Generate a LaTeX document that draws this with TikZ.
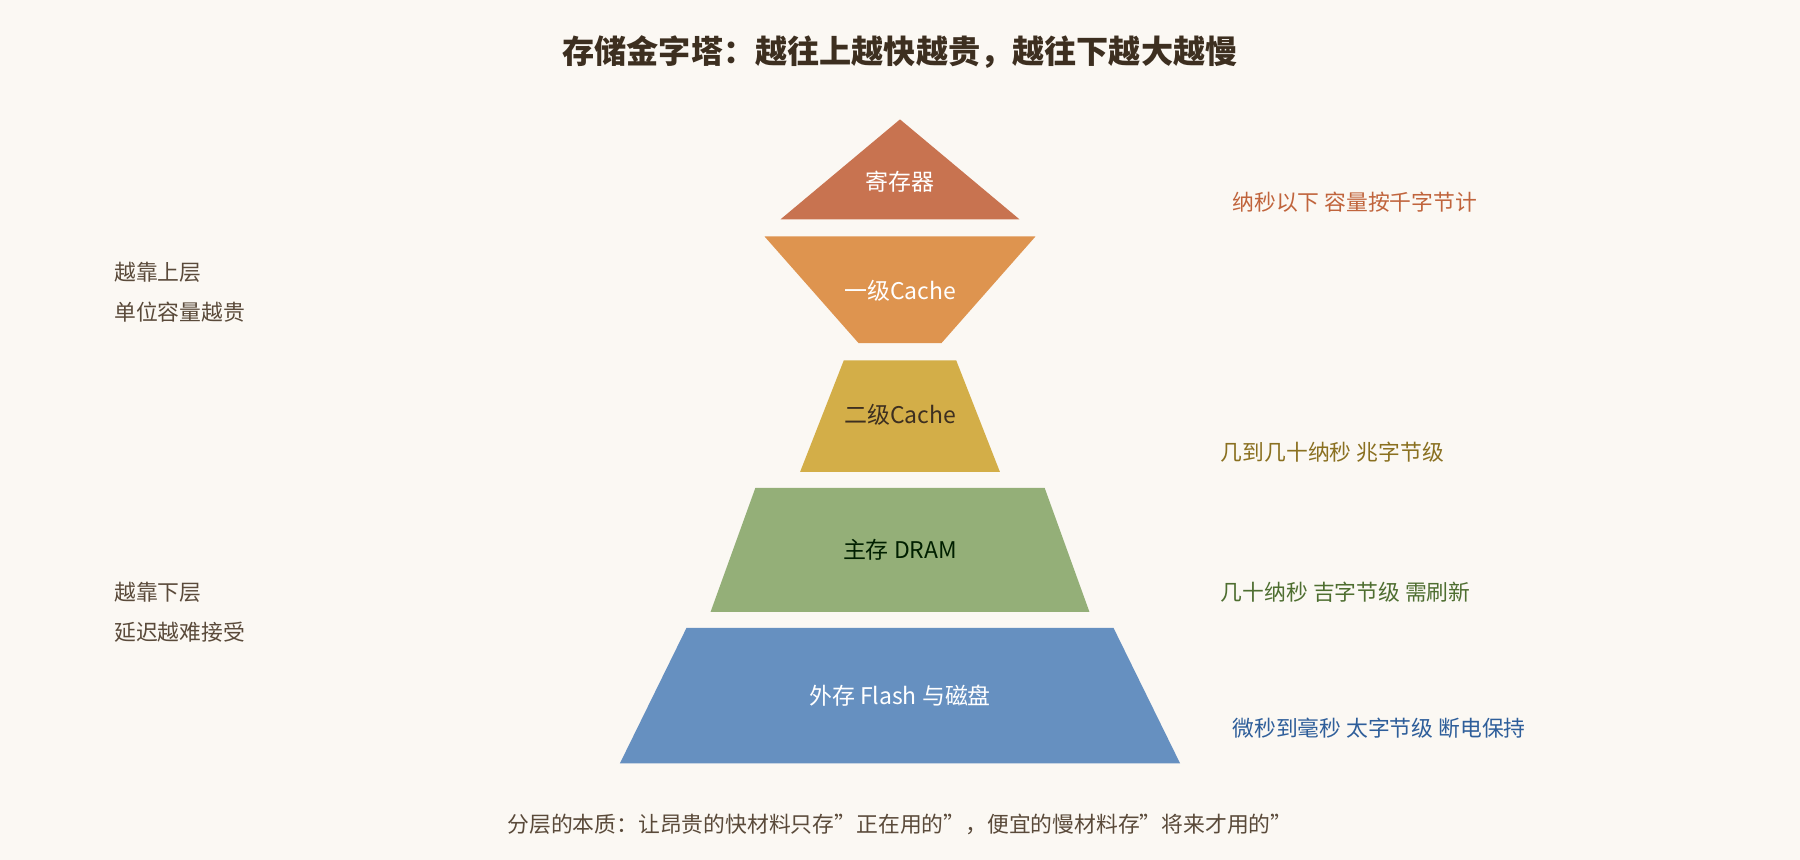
\documentclass[tikz,border=0pt]{standalone}
\usepackage{fontspec}
\setmainfont{Noto Sans CJK SC}
\begin{document}
\begin{tikzpicture}[x=1pt,y=-1pt,
  lbl/.style={font=\fontsize{20}{24}\selectfont,anchor=center},
  side/.style={font=\fontsize{19}{23}\selectfont,anchor=west},
  tier/.style={draw=none}]
\definecolor{bg}{HTML}{FBF8F3}
\definecolor{cR}{HTML}{C87350}
\definecolor{cA}{HTML}{DE944F}
\definecolor{cB}{HTML}{D3AE48}
\definecolor{cC}{HTML}{94AF78}
\definecolor{cD}{HTML}{6690C0}
\definecolor{tR}{HTML}{C0643C}
\definecolor{tB}{HTML}{8A7020}
\definecolor{tC}{HTML}{4E6E30}
\definecolor{tD}{HTML}{2E5E9A}
\definecolor{tL}{HTML}{5A4A3A}
\definecolor{tT}{HTML}{3D2F20}
\fill[bg] (0,0) rectangle (1568,749);
\useasboundingbox (0,0) rectangle (1568,749);
\node[font=\fontsize{28}{32}\selectfont\bfseries,text=tT] (title) at (784,45) {存储金字塔：越往上越快越贵，越往下越大越慢};
\fill[cR] (784,104) -- (888,191) -- (680,191) -- cycle;
\node[lbl,text=white] (reg) at (784,158) {寄存器};
\fill[cA] (666,206) -- (902,206) -- (820,299) -- (748,299) -- cycle;
\node[lbl,text=white] (l1) at (784,253) {一级Cache};
\fill[cB] (735,314) -- (833,314) -- (871,411) -- (697,411) -- cycle;
\node[lbl,text=tT] (l2) at (784,361) {二级Cache};
\fill[cC] (658,425) -- (910,425) -- (949,533) -- (619,533) -- cycle;
\node[lbl,text=black!70!green!40!black] (dram) at (784,479) {主存 DRAM};
\fill[cD] (598,547) -- (970,547) -- (1028,665) -- (540,665) -- cycle;
\node[lbl,text=white] (flash) at (784,606) {外存 Flash 与磁盘};
\node[side,text=tR] (r1) at (1070,176) {纳秒以下 容量按千字节计};
\node[side,text=tB] (r2) at (1060,394) {几到几十纳秒 兆字节级};
\node[side,text=tC] (r3) at (1060,516) {几十纳秒 吉字节级 需刷新};
\node[side,text=tD] (r4) at (1070,634) {微秒到毫秒 太字节级 断电保持};
\node[side,text=tL] (u1) at (96,237) {越靠上层};
\node[side,text=tL] (u2) at (96,272) {单位容量越贵};
\node[side,text=tL] (d1) at (96,516) {越靠下层};
\node[side,text=tL] (d2) at (96,551) {延迟越难接受};
\node[font=\fontsize{19}{23}\selectfont,text=tL] (foot) at (784,718) {分层的本质：让昂贵的快材料只存"正在用的"，便宜的慢材料存"将来才用的"};
\end{tikzpicture}
\end{document}
